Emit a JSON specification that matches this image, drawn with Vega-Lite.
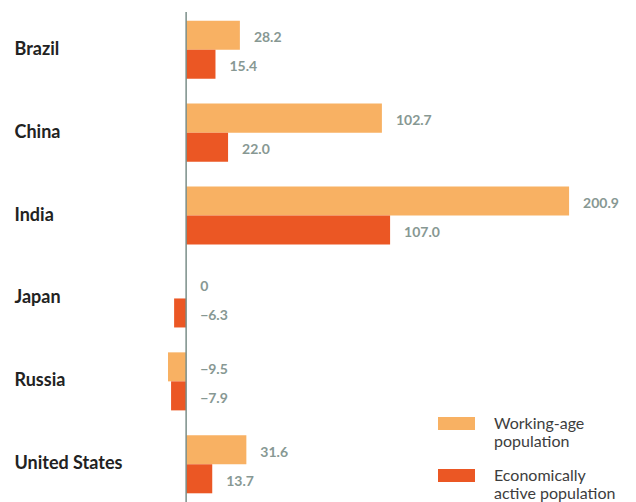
{
  "$schema": "https://vega.github.io/schema/vega-lite/v6.json",
  "width": 488,
  "height": 490,
  "autosize": {"type": "none"},
  "padding": {"left": 148, "top": 12, "right": 0, "bottom": 0},
  "background": "white",
  "config": {"view": {"stroke": null}, "font": "Lato"},
  "data": {
    "values": [
      {"country": "Brazil", "series": "Working-age population", "value": 28.2},
      {"country": "Brazil", "series": "Economically active population", "value": 15.4},
      {"country": "China", "series": "Working-age population", "value": 102.7},
      {"country": "China", "series": "Economically active population", "value": 22.0},
      {"country": "India", "series": "Working-age population", "value": 200.9},
      {"country": "India", "series": "Economically active population", "value": 107.0},
      {"country": "Japan", "series": "Working-age population", "value": 0},
      {"country": "Japan", "series": "Economically active population", "value": -6.3},
      {"country": "Russia", "series": "Working-age population", "value": -9.5},
      {"country": "Russia", "series": "Economically active population", "value": -7.9},
      {"country": "United States", "series": "Working-age population", "value": 31.6},
      {"country": "United States", "series": "Economically active population", "value": 13.7}
    ]
  },
  "transform": [
    {"calculate": "max(datum.value, 0)", "as": "labelPos"},
    {"calculate": "datum.value == 0 ? '0' : format(datum.value, '.1f')", "as": "label"}
  ],
  "layer": [
    {
      "mark": {"type": "bar"},
      "encoding": {
        "y": {
          "field": "country", "type": "nominal",
          "sort": ["Brazil", "China", "India", "Japan", "Russia", "United States"],
          "scale": {"paddingInner": 0.3, "paddingOuter": 0.105},
          "axis": {"title": null, "domain": false, "ticks": false, "labelAlign": "left", "labelPadding": 134,
                   "labelFont": "Lato", "labelFontSize": 18, "labelFontWeight": "bold", "labelColor": "#222222"}
        },
        "yOffset": {"field": "series", "type": "nominal",
          "sort": ["Working-age population", "Economically active population"],
          "scale": {"paddingInner": 0, "paddingOuter": 0}},
        "x": {"field": "value", "type": "quantitative", "scale": {"domain": [-20, 236], "nice": false}, "axis": null},
        "color": {
          "field": "series", "type": "nominal",
          "sort": ["Working-age population", "Economically active population"],
          "scale": {"domain": ["Working-age population", "Economically active population"], "range": ["#F8B163", "#EB5724"]},
          "legend": {
            "orient": "none", "legendX": 290, "legendY": 393, "title": null,
            "symbolType": "M-1,-0.35L1,-0.35L1,0.35L-1,0.35Z", "symbolSize": 1369, "symbolStrokeWidth": 0, "symbolOpacity": 1,
            "labelFont": "Lato", "labelFontSize": 16, "labelColor": "#3d3d3d", "labelOffset": 19, "rowPadding": 7,
            "labelExpr": "datum.label == 'Working-age population' ? ['Working-age', 'population'] : ['Economically', 'active population']"
          }
        }
      }
    },
    {
      "data": {"values": [{"zero": 0}]},
      "mark": {"type": "rule", "color": "#7B8E88", "strokeWidth": 1.5},
      "encoding": {"x": {"field": "zero", "type": "quantitative"}}
    },
    {
      "mark": {"type": "text", "align": "left", "baseline": "middle", "dx": 14, "dy": 3,
               "font": "Lato", "fontSize": 14, "fontWeight": "bold", "color": "#879893"},
      "encoding": {
        "y": {"field": "country", "type": "nominal", "sort": ["Brazil", "China", "India", "Japan", "Russia", "United States"]},
        "yOffset": {"field": "series", "type": "nominal", "sort": ["Working-age population", "Economically active population"]},
        "x": {"field": "labelPos", "type": "quantitative"},
        "text": {"field": "label"}
      }
    }
  ]
}
